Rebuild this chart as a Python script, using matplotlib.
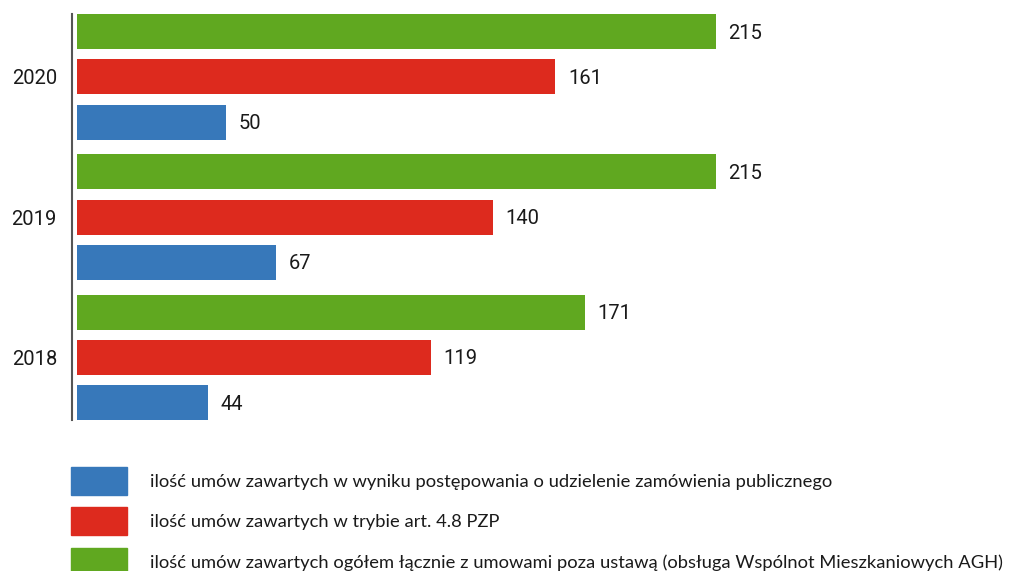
import matplotlib.pyplot as plt
import matplotlib.patches as mpatches
import numpy as np

years = ["2018", "2019", "2020"]
przetargi = [44, 67, 50]          # blue
art_48 = [119, 140, 161]          # red
ogolem = [171, 215, 215]          # green

labels = [
    "ilość umów zawartych w wyniku postępowania o udzielenie zamówienia publicznego",
    "ilość umów zawartych w trybie art. 4.8 PZP",
    "ilość umów zawartych ogółem łącznie z umowami poza ustawą (obsługa Wspólnot Mieszkaniowych AGH)",
]
colors = ["#3778ba", "#dd2a1e", "#60a820"]

W, H = 1013, 571
fig = plt.figure(figsize=(W / 100, H / 100), dpi=100)
ax = fig.add_axes([72 / W, 1 - 420 / H, (W - 72) / W, (420 - 14) / H])

y = np.arange(len(years))
off = 0.3225
h = 0.249
series = [(przetargi, -off), (art_48, 0), (ogolem, off)]
for (vals, dy), c in zip(series, colors):
    bars = ax.barh(y + dy, vals, height=h, color=c, left=0)
    for b, v in zip(bars, vals):
        ax.annotate(str(v), (v, b.get_y() + b.get_height() / 2),
                    xytext=(9, -1), textcoords="offset points",
                    va="center", ha="left", fontsize=14.5,
                    family="Roboto", color="#1a1a1a")

ax.set_xlim(-5 / 2.972, (W - 77) / 2.972)
ax.set_ylim(-0.445, 2.448)
ax.set_yticks(y)
ax.set_yticklabels(years, fontsize=14.5, family="Roboto", color="#1a1a1a")
ax.tick_params(axis="y", length=0, pad=10.8)
ax.set_xticks([])
for s in ["top", "right", "bottom"]:
    ax.spines[s].set_visible(False)
ax.spines["left"].set_color("#555555")
ax.spines["left"].set_linewidth(1.5)

# legend drawn by hand below the chart
leg_tops = [467, 507, 548]
for top, c, lab in zip(leg_tops, colors, labels):
    fig.patches.append(mpatches.Rectangle((71 / W, 1 - (top + 28) / H), 56 / W, 28 / H,
                                          transform=fig.transFigure, color=c))
    fig.text(150 / W, 1 - (top + 15) / H, lab, va="center", ha="left",
             fontsize=13.2, family="Lato", color="#1a1a1a")

fig.savefig("out.png", dpi=100)
